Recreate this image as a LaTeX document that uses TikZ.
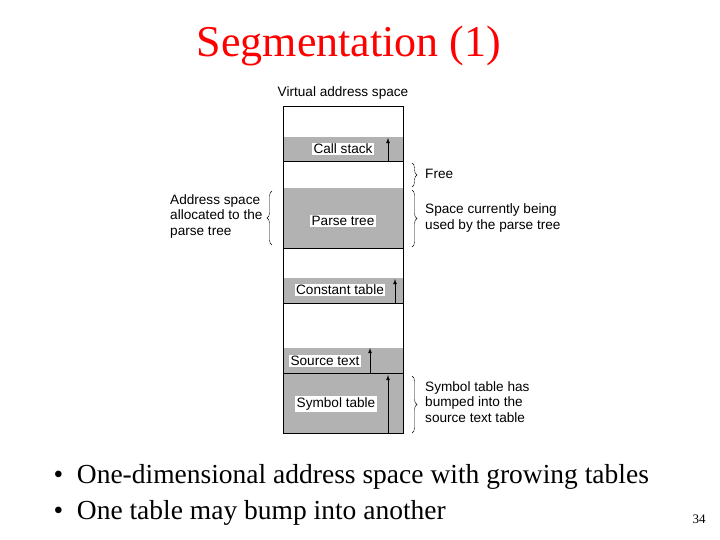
\documentclass[tikz,border=0pt]{standalone}
\usepackage{fontspec}
\setmainfont{Liberation Serif}
\setsansfont{Liberation Sans}
\usetikzlibrary{arrows,positioning,decorations.pathreplacing}
\tikzset{
  lbl/.style={fill=white,inner sep=1.5pt,font=\sffamily\fontsize{13.6}{15}\selectfont},
  note/.style={align=left,anchor=west,inner sep=0pt,font=\sffamily\fontsize{13.6}{15.5}\selectfont},
  seg/.style={fill=black!30,draw=none},
  growarrow/.style={->,>=latex,line width=0.8pt},
  brc/.style={decorate,decoration={brace,amplitude=5pt}}
}
\begin{document}
\begin{tikzpicture}[x=1pt,y=-1pt]
	     \useasboundingbox (0,0) rectangle (720,540);
	     \node[text=red,font=\fontsize{44}{46}\selectfont] (title) at (349,46) {Segmentation (1)};
	     % grey tables
	     \fill[seg] (283,137) rectangle (403,162);
	     \fill[seg] (283,188) rectangle (403,248);
	     \fill[seg] (283,278) rectangle (403,303);
	     \fill[seg] (283,348) rectangle (403,433);
	     \draw[line width=1pt] (283,107) rectangle (403,433);
	     \foreach \y in {162,248,303,373} \draw[line width=1pt] (283,\y) -- (403,\y);
	     \node[font=\sffamily\fontsize{13.6}{15}\selectfont] (vas) at (343,93) {Virtual address space};
	     \node[lbl] (cs) at (343,149) {Call stack};
	     \node[lbl] (pt) at (343,221) {Parse tree};
	     \node[lbl] (ct) at (340,290) {Constant table};
	     \node[lbl] (st) at (325,361) {Source text};
	     \node[lbl] (sy) at (336,404) {Symbol table};
	     % growth arrows
	     \coordinate (a1) at (388,162); \coordinate (b1) at (388,138);
	     \coordinate (a2) at (395,303); \coordinate (b2) at (395,279);
	     \coordinate (a3) at (370,373); \coordinate (b3) at (370,348);
	     \coordinate (a4) at (388,433); \coordinate (b4) at (388,375);
	     \foreach \i in {1,...,4} \draw[growarrow] (a\i) -- (b\i);
	     % braces
	     \draw[brc] (412,163) -- (412,187);
	     \draw[brc] (412,190) -- (412,247);
	     \draw[brc] (412,376) -- (412,433);
	     \draw[brc] (272,245) -- (272,191);
	     \node[note] (free) at (425,174) {Free};
	     \node[note] (used) at (425,218) {Space currently being\\used by the parse tree};
	     \node[note] (bump) at (425,402) {Symbol table has\\bumped into the\\source text table};
	     \node[note,anchor=west] (alloc) at (170,216) {Address space\\allocated to the\\parse tree};
	     % bullets
	     \node[anchor=west,font=\fontsize{27.5}{36}\selectfont,align=left] (bul) at (50,495)
	       {\textbullet\ \ One-dimensional address space with growing tables\\
	        \textbullet\ \ One table may bump into another};
	     \node[font=\fontsize{13}{14}\selectfont] (pg) at (699,519) {34};
\end{tikzpicture}
\end{document}
